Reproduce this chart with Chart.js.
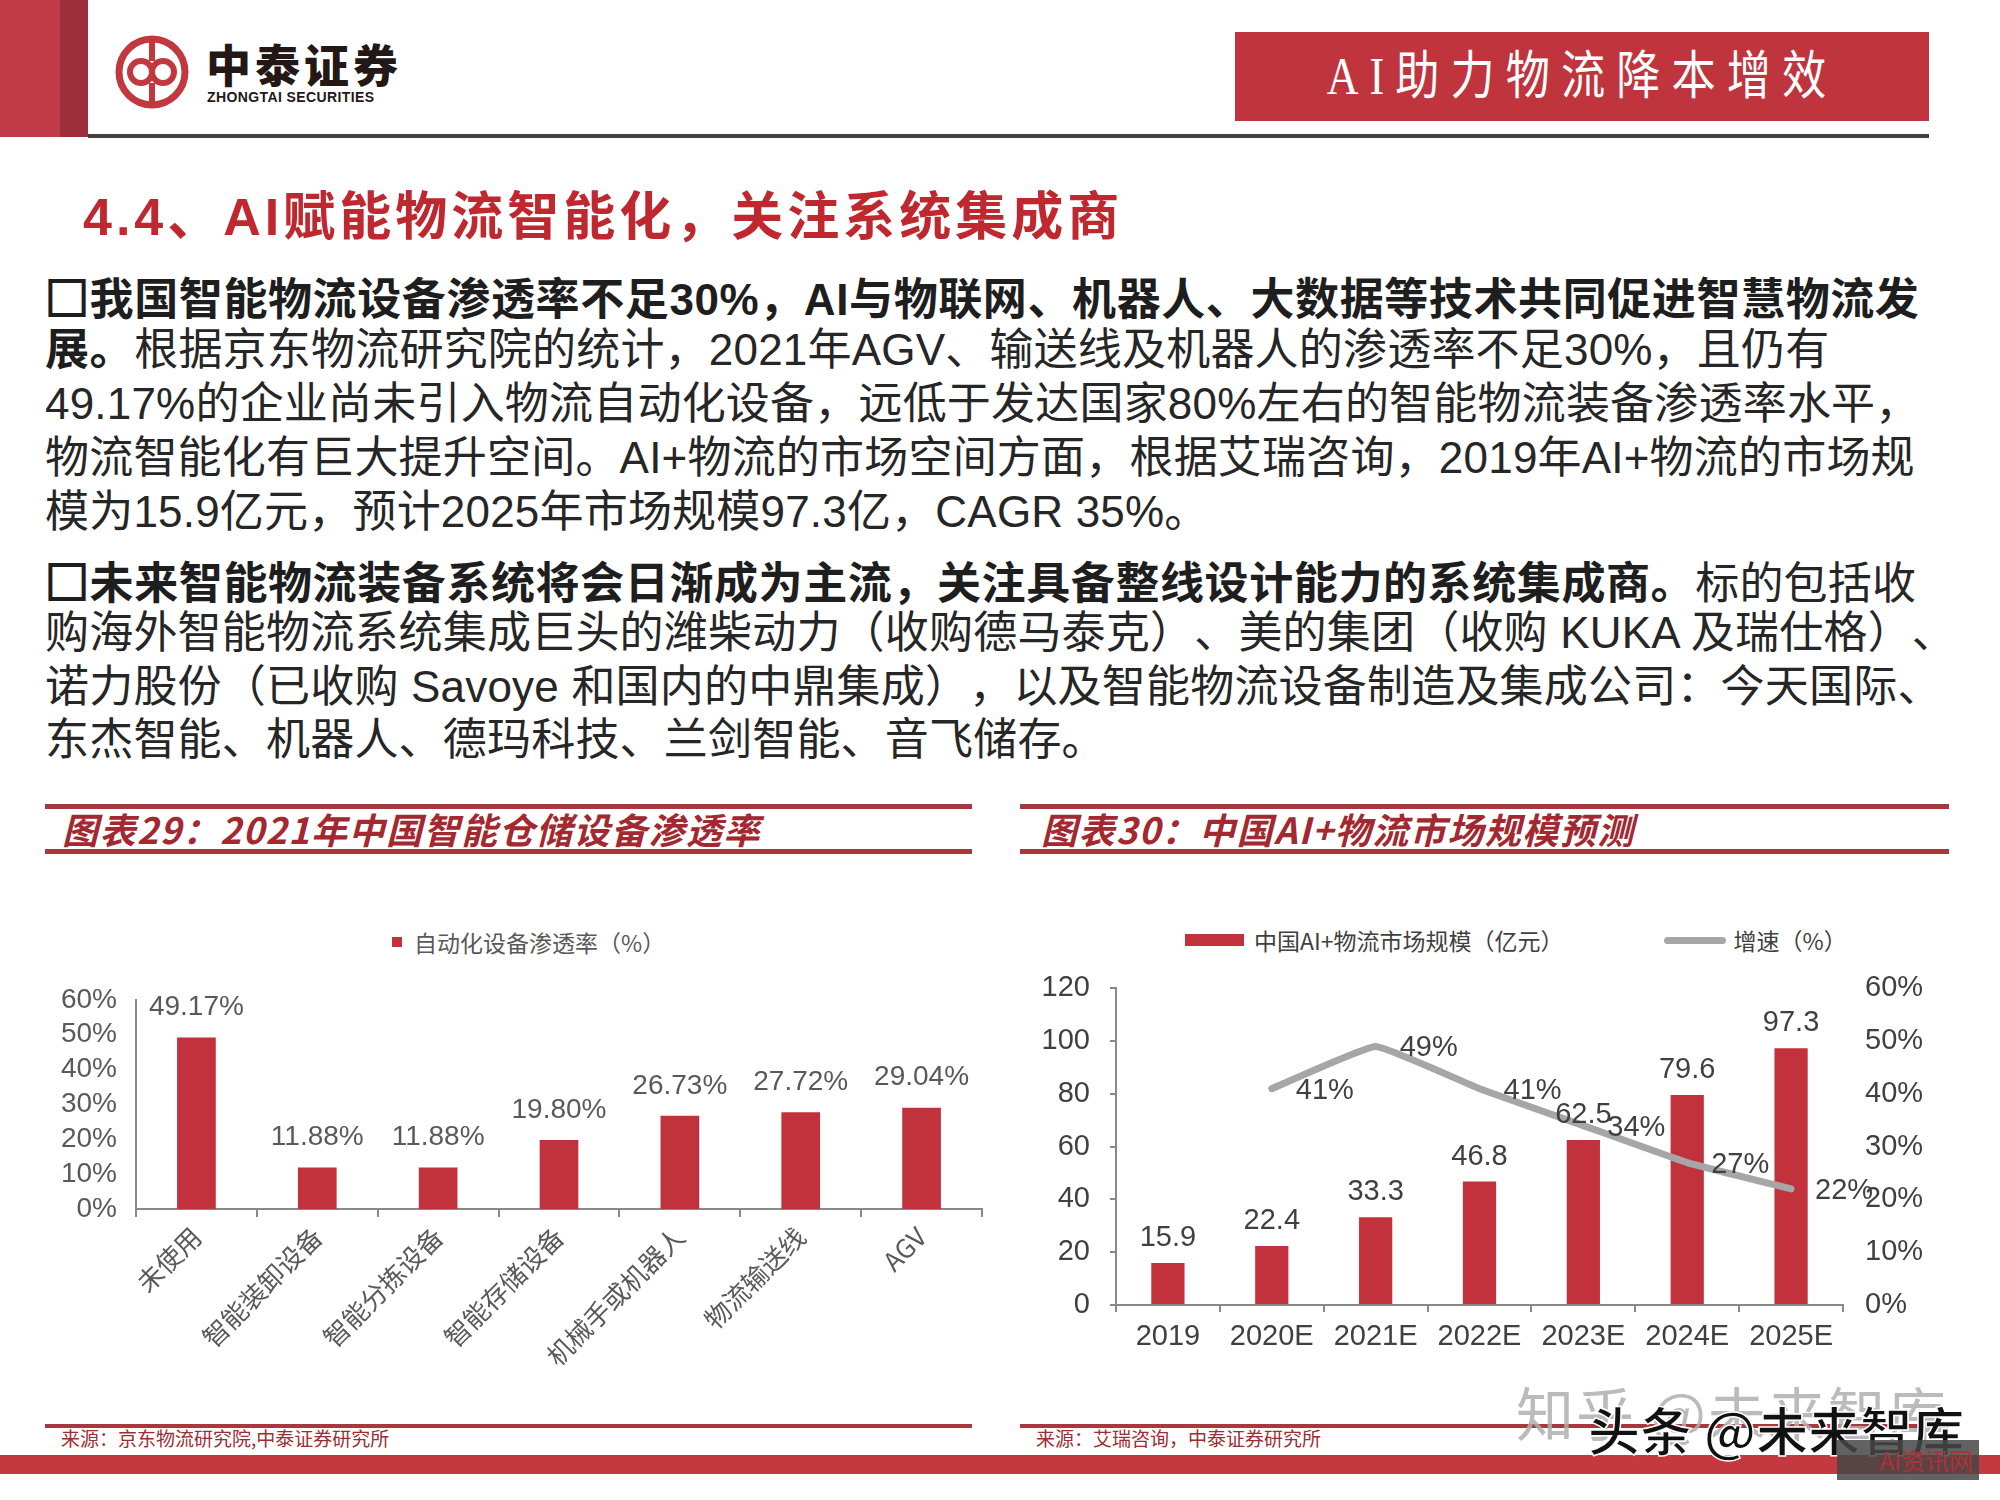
<!DOCTYPE html>
<html lang="zh-CN">
<head>
<meta charset="utf-8">
<title>AI助力物流降本增效</title>
<script src="https://cdn.jsdelivr.net/npm/chart.js@4.4.1/dist/chart.umd.min.js"></script>
<style>
  html, body { margin: 0; padding: 0; background: #fff; }
  #page {
    position: relative; width: 2000px; height: 1500px; overflow: hidden;
    font-family: "Liberation Sans", "Noto Sans CJK SC", sans-serif; color: #262626;
    text-spacing-trim: space-all;
  }
  .abs { position: absolute; }
  .line { position: absolute; left: 45px; font-size: 44px; line-height: 54px; white-space: nowrap; letter-spacing: 0.2px; }
  .line b { font-weight: bold; color: #1e1e1e; letter-spacing: 0.6px; }
  .box { font-family: "Noto Sans CJK SC", sans-serif; -webkit-text-stroke: 2px #1e1e1e; }
  .rule { position: absolute; height: 5px; background: #A8383E; }
  .ctitle {
    position: absolute; font-family: "Noto Sans CJK SC", sans-serif; font-size: 36px; font-weight: bold;
    font-style: italic; color: #A3282F; letter-spacing: 1.5px; line-height: 44px; white-space: nowrap;
  }
  .source { position: absolute; top: 1426px; font-family: "Noto Sans CJK SC", sans-serif; font-size: 19px; color: #9A2E33; line-height: 24px; }
  .legend { position: absolute; display: flex; align-items: center; height: 30px; font-family: "Noto Sans CJK SC", sans-serif; font-size: 23px; white-space: nowrap; }
  .legend .item { display: flex; align-items: center; }
  canvas { position: absolute; }
</style>
</head>
<body>
<div id="page">
  <!-- header -->
  <div class="abs" style="left:0;top:0;width:60px;height:137px;background:#C13A47"></div>
  <div class="abs" style="left:60px;top:0;width:28px;height:137px;background:#9D2F3B"></div>
  <div class="abs" style="left:88px;top:134px;width:1841px;height:4px;background:#404040"></div>
  <svg class="abs" style="left:112px;top:32px" width="80" height="80" viewBox="0 0 80 80">
    <circle cx="40" cy="40" r="33" fill="none" stroke="#C1393F" stroke-width="7"/>
    <path d="M40 8 V29 M40 51 V72" stroke="#C1393F" stroke-width="6" fill="none"/>
    <circle cx="29" cy="40" r="11" fill="none" stroke="#C1393F" stroke-width="6"/>
    <circle cx="51" cy="40" r="11" fill="none" stroke="#C1393F" stroke-width="6"/>
  </svg>
  <div class="abs" style="left:206px;top:38px;font-family:'Noto Sans CJK SC';font-size:45px;font-weight:900;letter-spacing:4px;line-height:52px;color:#231815">中泰证券</div>
  <div class="abs" style="left:207px;top:88px;font-size:14px;font-weight:bold;letter-spacing:0.4px;line-height:18px;color:#231815">ZHONGTAI SECURITIES</div>
  <div class="abs" style="left:1235px;top:32px;width:694px;height:89px;background:#C0353D"></div>
  <div class="abs" style="left:1235px;top:32px;width:694px;height:89px;line-height:89px;text-align:center;color:#fff;font-family:'Liberation Serif','Noto Sans CJK SC';font-size:52px;letter-spacing:13px;transform:scaleX(0.85);white-space:nowrap">AI助力物流降本增效</div>

  <!-- section title -->
  <div class="abs" style="left:83px;top:186px;font-size:52px;line-height:62px;font-weight:bold;color:#C0282F;letter-spacing:4px;white-space:nowrap">4.4、AI赋能物流智能化，关注系统集成商</div>

  <!-- body text -->
  <div class="line" style="top:269px"><b><span class="box">□</span>我国智能物流设备渗透率不足30%，AI与物联网、机器人、大数据等技术共同促进智慧物流发</b></div>
  <div class="line" style="top:323px"><b>展。</b>根据京东物流研究院的统计，2021年AGV、输送线及机器人的渗透率不足30%，且仍有</div>
  <div class="line" style="top:377px">49.17%的企业尚未引入物流自动化设备，远低于发达国家80%左右的智能物流装备渗透率水平，</div>
  <div class="line" style="top:431px">物流智能化有巨大提升空间。AI+物流的市场空间方面，根据艾瑞咨询，2019年AI+物流的市场规</div>
  <div class="line" style="top:485px">模为15.9亿元，预计2025年市场规模97.3亿，CAGR 35%。</div>
  <div class="line" style="top:553px"><b><span class="box">□</span>未来智能物流装备系统将会日渐成为主流，关注具备整线设计能力的系统集成商。</b>标的包括收</div>
  <div class="line" style="top:606px">购海外智能物流系统集成巨头的潍柴动力（收购德马泰克）、美的集团（收购 KUKA 及瑞仕格）、</div>
  <div class="line" style="top:660px">诺力股份（已收购 Savoye 和国内的中鼎集成），以及智能物流设备制造及集成公司：今天国际、</div>
  <div class="line" style="top:713px">东杰智能、机器人、德玛科技、兰剑智能、音飞储存。</div>

  <!-- chart 29 frame -->
  <div class="rule" style="left:45px;top:804px;width:927px"></div>
  <div class="rule" style="left:45px;top:849px;width:927px"></div>
  <div class="ctitle" style="left:62px;top:806px">图表29：2021年中国智能仓储设备渗透率</div>
  <div id="legend29" class="legend" style="left:392px;top:927px"></div>
  <canvas id="chart29" width="945" height="430" style="left:45px;top:964px"></canvas>
  <div class="rule" style="left:45px;top:1424px;width:927px;height:4px"></div>
  <div class="source" style="left:61px">来源：京东物流研究院,中泰证券研究所</div>

  <!-- chart 30 frame -->
  <div class="rule" style="left:1020px;top:804px;width:929px"></div>
  <div class="rule" style="left:1020px;top:849px;width:929px"></div>
  <div class="ctitle" style="left:1041px;top:806px">图表30：中国AI+物流市场规模预测</div>
  <div id="legend30" class="legend" style="left:1185px;top:925px"></div>
  <canvas id="chart30" width="930" height="420" style="left:1020px;top:949px"></canvas>
  <div class="rule" style="left:1020px;top:1424px;width:929px;height:4px"></div>
  <div class="source" style="left:1036px">来源：艾瑞咨询，中泰证券研究所</div>

  <!-- footer -->
  <div class="abs" style="left:0;top:1455px;width:2000px;height:19px;background:#C4383F"></div>

  <!-- watermarks -->
  <div class="abs" style="left:1516px;top:1378px;font-family:'Noto Sans CJK SC';font-size:58px;line-height:66px;letter-spacing:2px;color:rgba(175,175,175,0.85);white-space:nowrap">知乎 @未来智库</div>
  <div class="abs" style="left:1588px;top:1398px;font-family:'Noto Sans CJK SC';font-size:52px;line-height:62px;font-weight:bold;color:#111;-webkit-text-stroke:1.5px #fff;white-space:nowrap">头条 @未来智库</div>
  <div class="abs" style="left:1837px;top:1440px;width:142px;height:40px;background:rgba(70,70,70,0.85);color:#B03038;font-family:'Noto Sans CJK SC';font-size:24px;line-height:40px;text-align:right;padding-right:6px;box-sizing:border-box">AI资讯网</div>
</div>

<script>
// 图表29 数据
const penCategories = ['未使用', '智能装卸设备', '智能分拣设备', '智能存储设备', '机械手或机器人', '物流输送线', 'AGV'];
const penValues = [49.17, 11.88, 11.88, 19.80, 26.73, 27.72, 29.04];
const penTicks = [0, 10, 20, 30, 40, 50, 60];

// 图表30 数据
const years = ['2019', '2020E', '2021E', '2022E', '2023E', '2024E', '2025E'];
const marketSize = [15.9, 22.4, 33.3, 46.8, 62.5, 79.6, 97.3];
const growthRate = [null, 41, 49, 41, 34, 27, 22];
const sizeTicks = [0, 20, 40, 60, 80, 100, 120];
const rateTicks = [0, 10, 20, 30, 40, 50, 60];

const RED = '#C1323C';
const GREY_LINE = '#A6A6A6';
const AXIS = '#898989';
const NARROW = '"Liberation Sans Narrow", "Liberation Sans", sans-serif';
const CJK = '"Noto Sans CJK SC", sans-serif';

Chart.defaults.animation = false;
Chart.defaults.devicePixelRatio = 1;


// 柱顶 / 折线点旁的数值标签
const valueLabels = {
  id: 'valueLabels',
  afterDatasetsDraw(chart) {
    const ctx = chart.ctx;
    chart.data.datasets.forEach((ds, i) => {
      const lab = ds.valueLabel;
      if (!lab) return;
      const meta = chart.getDatasetMeta(i);
      meta.data.forEach((el, j) => {
        const v = ds.data[j];
        if (v === null || v === undefined) return;
        ctx.save();
        ctx.font = lab.font;
        ctx.fillStyle = lab.color;
        ctx.textAlign = lab.align || 'center';
        ctx.textBaseline = 'middle';
        ctx.fillText(lab.fmt(v), el.x + (lab.dx || 0), el.y + (lab.dy || 0));
        ctx.restore();
      });
    });
  }
};


function fixedTicks(values) {
  return scale => { scale.ticks = values.map(v => ({ value: v })); };
}


function renderLegend(chart, el, color, gap) {
  chart.data.datasets.forEach((ds, i) => {
    const item = document.createElement('span');
    item.className = 'item';
    if (i > 0) item.style.marginLeft = gap + 'px';
    const mark = document.createElement('span');
    const m = ds.legendMark;
    mark.style.cssText = `display:inline-block;width:${m.w}px;height:${m.h}px;border-radius:${m.r || 0}px;margin-right:${m.gap}px;background:${ds.type === 'line' ? ds.borderColor : ds.backgroundColor}`;
    const txt = document.createElement('span');
    txt.textContent = ds.label;
    txt.style.color = color;
    item.appendChild(mark);
    item.appendChild(txt);
    el.appendChild(item);
  });
}


const chart29 = new Chart(document.getElementById('chart29'), {
  type: 'bar',
  data: {
    labels: penCategories,
    datasets: [{
      label: '自动化设备渗透率（%）',
      data: penValues,
      backgroundColor: RED,
      barPercentage: 0.32,
      categoryPercentage: 1,
      legendMark: { w: 10, h: 10, gap: 12 },
      valueLabel: { fmt: v => v.toFixed(2) + '%', font: '28px ' + NARROW, color: '#595959', dy: -30 }
    }]
  },
  options: {
    responsive: false,
    layout: { padding: { top: 0, right: 8, bottom: 0, left: 0 } },
    plugins: { legend: { display: false }, tooltip: { enabled: false } },
    scales: {
      x: {
        grid: { display: true, drawOnChartArea: false, drawTicks: true, tickLength: 8, color: AXIS, lineWidth: 2, offset: true },
        border: { display: true, color: AXIS, width: 2 },
        ticks: { color: '#595959', font: { family: CJK, size: 26 }, minRotation: 45, maxRotation: 45, autoSkip: false, padding: 4 },
        afterFit: s => { s.height = 185; }
      },
      y: {
        min: 0,
        max: 60,
        afterBuildTicks: fixedTicks(penTicks),
        grid: { display: false, drawTicks: false },
        border: { display: true, color: AXIS, width: 2 },
        ticks: { color: '#595959', font: { family: NARROW, size: 28 }, padding: 19, autoSkip: false, callback: v => v + '%' },
        afterFit: s => { s.width = 91; }
      }
    }
  },
  plugins: [valueLabels]
});
renderLegend(chart29, document.getElementById('legend29'), '#595959', 0);


const chart30 = new Chart(document.getElementById('chart30'), {
  type: 'bar',
  data: {
    labels: years,
    datasets: [{
      type: 'bar',
      label: '中国AI+物流市场规模（亿元）',
      data: marketSize,
      backgroundColor: RED,
      yAxisID: 'y',
      order: 1,
      barPercentage: 0.32,
      categoryPercentage: 1,
      legendMark: { w: 59, h: 12, gap: 10 },
      valueLabel: { fmt: v => v.toFixed(1), font: '29px ' + NARROW, color: '#404040', dy: -25 }
    }, {
      type: 'line',
      label: '增速（%）',
      data: growthRate,
      borderColor: GREY_LINE,
      backgroundColor: GREY_LINE,
      borderWidth: 7,
      borderCapStyle: 'round',
      borderJoinStyle: 'round',
      tension: 0.1,
      pointRadius: 0,
      yAxisID: 'y1',
      order: 0,
      legendMark: { w: 62, h: 7, r: 4, gap: 8 },
      valueLabel: { fmt: v => v + '%', font: '29px ' + NARROW, color: '#404040', align: 'left', dx: 24, dy: 2 }
    }]
  },
  options: {
    responsive: false,
    layout: { padding: { top: 0, right: 0, bottom: 0, left: 0 } },
    plugins: { legend: { display: false }, tooltip: { enabled: false } },
    scales: {
      x: {
        grid: { display: true, drawOnChartArea: false, drawTicks: true, tickLength: 7, color: AXIS, lineWidth: 2, offset: true },
        border: { display: true, color: AXIS, width: 2 },
        ticks: { color: '#404040', font: { family: NARROW, size: 29 }, padding: 8 },
        afterFit: s => { s.height = 64; }
      },
      y: {
        position: 'left',
        min: 0,
        max: 120,
        afterBuildTicks: fixedTicks(sizeTicks),
        grid: { display: true, drawOnChartArea: false, drawTicks: true, tickLength: 6, color: AXIS, lineWidth: 2 },
        border: { display: true, color: AXIS, width: 2 },
        ticks: { color: '#404040', font: { family: NARROW, size: 29 }, padding: 20, autoSkip: false },
        afterFit: s => { s.width = 96; }
      },
      y1: {
        position: 'right',
        min: 0,
        max: 60,
        afterBuildTicks: fixedTicks(rateTicks),
        grid: { display: false, drawTicks: false },
        border: { display: false },
        ticks: { color: '#404040', font: { family: NARROW, size: 29 }, padding: 22, autoSkip: false, callback: v => v + '%' },
        afterFit: s => { s.width = 107; }
      }
    }
  },
  plugins: [valueLabels]
});
renderLegend(chart30, document.getElementById('legend30'), '#404040', 100);
</script>
</body>
</html>
